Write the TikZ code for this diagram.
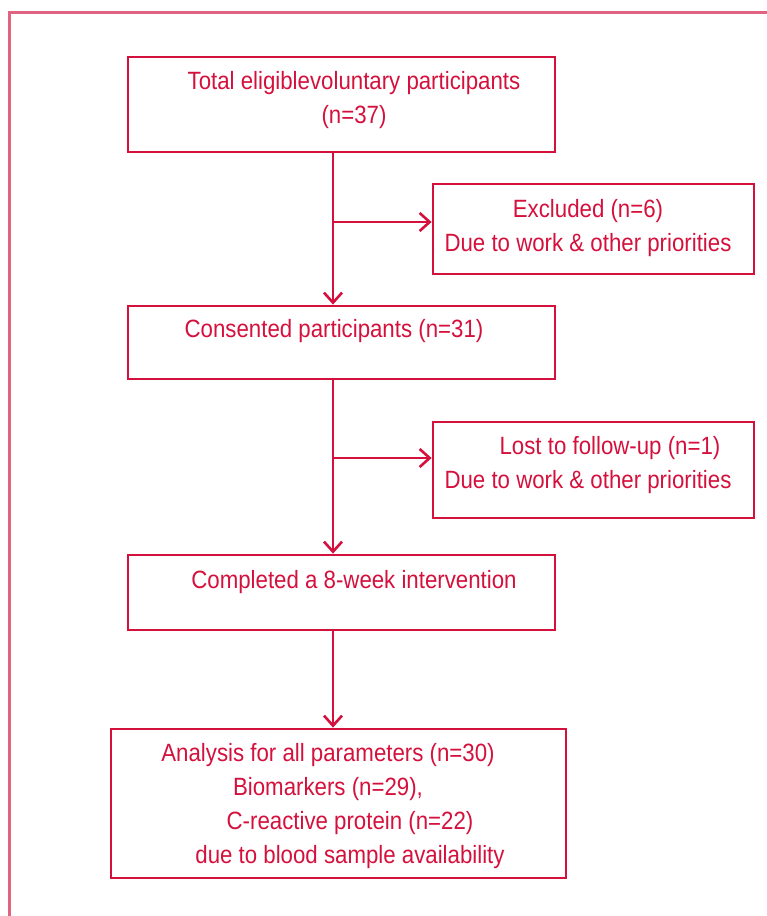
\documentclass[tikz,border=0pt]{standalone}
\usepackage{fontspec}
\setmainfont[FakeStretch=0.89]{Liberation Sans}
\usetikzlibrary{arrows.meta}
\definecolor{boxred}{RGB}{212,16,60}
\definecolor{framepink}{RGB}{224,100,130}
\tikzset{
	stagebox/.style={draw=boxred, line width=2.8pt, rectangle, inner sep=0pt},
	stagetext/.style={text=boxred, align=center, inner sep=0pt, font=\fontsize{25}{34}\selectfont},
	flowarrow/.style={draw=boxred, line width=2.6pt, -{Straight Barb[length=10pt,width=18pt,line width=2.6pt]}}
}
\begin{document}
\begin{tikzpicture}[x=1pt,y=-1pt]
		\useasboundingbox (0,0) rectangle (767,916);
		\draw[framepink, line width=3pt] (9.5,916) -- (9.5,12.5) -- (767,12.5);
		% boxes
		\node[stagebox, minimum width=427pt, minimum height=95pt] (total) at (341.5,104.5) {};
		\node[stagebox, minimum width=321pt, minimum height=90pt] (excl) at (593.5,229) {};
		\node[stagebox, minimum width=427pt, minimum height=73pt] (consent) at (341.5,342.5) {};
		\node[stagebox, minimum width=321pt, minimum height=96pt] (lost) at (593.5,470) {};
		\node[stagebox, minimum width=427pt, minimum height=75pt] (compl) at (341.5,592.5) {};
		\node[stagebox, minimum width=455pt, minimum height=149pt] (analysis) at (338.5,803.5) {};
		% texts
		\node[stagetext] (totaltxt) at (354,100) {Total eligiblevoluntary participants\\(n=37)};
		\node[stagetext] (excltxt) at (588,228) {Excluded (n=6)\\Due to work \& other priorities};
		\node[stagetext] (consenttxt) at (334,331) {Consented participants (n=31)};
		\node[stagetext] (losttxt) at (588,465.5) {\hspace*{44pt}Lost to follow-up (n=1)\\Due to work \& other priorities};
		\node[stagetext] (compltxt) at (354,582) {Completed a 8-week intervention};
		\node[stagetext] (analysistxt) at (328,806) {Analysis for all parameters (n=30)\\Biomarkers (n=29),\\\hspace*{44pt}C-reactive protein (n=22)\\\hspace*{44pt}due to blood sample availability};
		% connectors
		\coordinate (branchA) at (333,222);
		\coordinate (branchB) at (333,458);
		\draw[flowarrow] (total.south -| branchA) -- (consent.north -| branchA);
		\draw[flowarrow] (branchA) -- (branchA -| excl.west);
		\draw[flowarrow] (consent.south -| branchB) -- (compl.north -| branchB);
		\draw[flowarrow] (branchB) -- (branchB -| lost.west);
		\draw[flowarrow] (compl.south -| branchB) -- (analysis.north -| branchB);
		\end{tikzpicture}
\end{document}
